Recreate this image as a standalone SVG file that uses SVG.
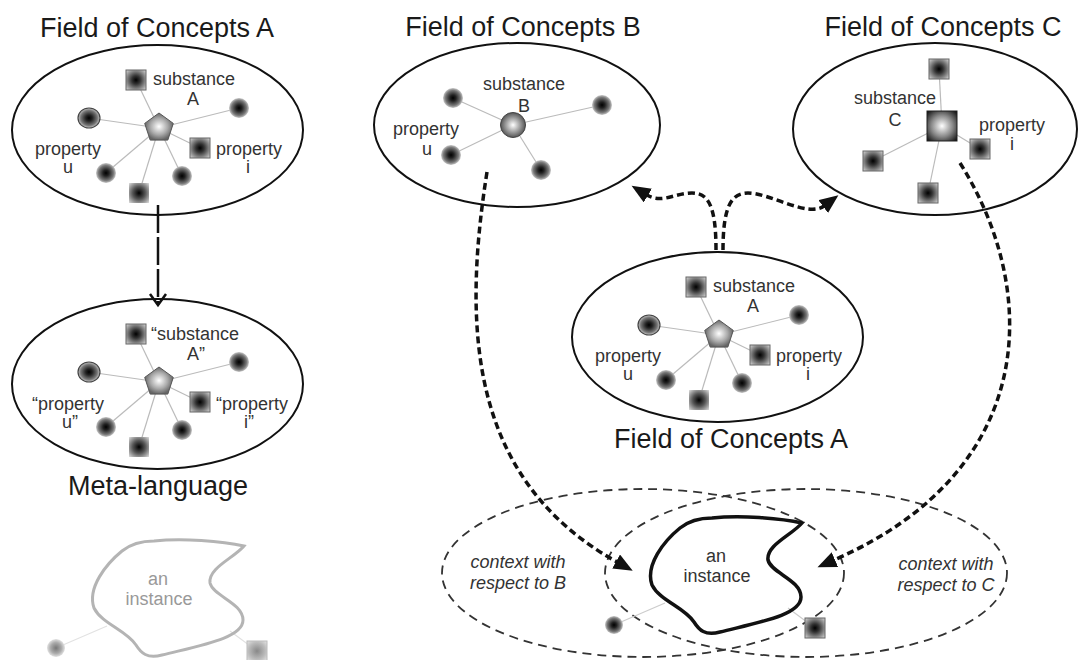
<svg xmlns="http://www.w3.org/2000/svg" width="1080" height="660" viewBox="0 0 1080 660">
<style>
.title{font-family:"Liberation Sans",Arial,sans-serif;font-size:27px;fill:#1a1a1a}
.lbl{font-family:"Liberation Sans",Arial,sans-serif;font-size:18px;fill:#333}
.mid{text-anchor:middle}
.ctx{font-family:"Liberation Sans",Arial,sans-serif;font-size:18px;font-style:italic;fill:#333;text-anchor:middle}
.grey{font-family:"Liberation Sans",Arial,sans-serif;font-size:18px;fill:#999;text-anchor:middle}
.field{fill:none;stroke:#111;stroke-width:2}
.spoke{stroke:#bbb;stroke-width:1.2}
.dot{fill:url(#gDot)}
.sq{fill:url(#gSq);stroke:#666;stroke-width:1}
.thick{fill:none;stroke:#111;stroke-width:3.5;stroke-dasharray:7 4}
.ctxe{fill:none;stroke:#333;stroke-width:1.8;stroke-dasharray:9 6}
</style>
<defs>
<radialGradient id="gDot"><stop offset="0" stop-color="#000"/><stop offset="0.3" stop-color="#222"/><stop offset="0.75" stop-color="#777"/><stop offset="1" stop-color="#c8c8c8"/></radialGradient>
<radialGradient id="gDotLight"><stop offset="0" stop-color="#777"/><stop offset="0.6" stop-color="#aaa"/><stop offset="1" stop-color="#e2e2e2"/></radialGradient>
<radialGradient id="gSq" r="0.7"><stop offset="0" stop-color="#000"/><stop offset="0.3" stop-color="#333"/><stop offset="0.8" stop-color="#aaa"/><stop offset="1" stop-color="#ddd"/></radialGradient>
<radialGradient id="gSqLight" r="0.7"><stop offset="0" stop-color="#888"/><stop offset="0.6" stop-color="#bbb"/><stop offset="1" stop-color="#e6e6e6"/></radialGradient>
<radialGradient id="gSoft" r="0.7"><stop offset="0" stop-color="#000"/><stop offset="0.45" stop-color="#555"/><stop offset="1" stop-color="#ddd"/></radialGradient>
<radialGradient id="gPent"><stop offset="0" stop-color="#fff"/><stop offset="0.6" stop-color="#aaa"/><stop offset="1" stop-color="#666"/></radialGradient>
<radialGradient id="gSphere"><stop offset="0" stop-color="#fff"/><stop offset="0.6" stop-color="#999"/><stop offset="1" stop-color="#555"/></radialGradient>
<radialGradient id="gBig" r="0.72"><stop offset="0" stop-color="#fff"/><stop offset="0.5" stop-color="#888"/><stop offset="1" stop-color="#000"/></radialGradient>
<marker id="tri" markerUnits="userSpaceOnUse" markerWidth="20" markerHeight="16" viewBox="0 0 20 16" refX="1" refY="8" orient="auto"><path d="M0,0 L19,8 L0,16 z" fill="#111"/></marker>
<g id="fieldA-shapes">
<g class="spoke">
<line x1="159" y1="128" x2="136" y2="80"/><line x1="159" y1="128" x2="239" y2="108"/><line x1="159" y1="128" x2="89" y2="118"/><line x1="159" y1="128" x2="200" y2="148"/><line x1="159" y1="128" x2="106" y2="173"/><line x1="159" y1="128" x2="182" y2="176"/><line x1="159" y1="128" x2="139" y2="193"/>
</g>
<rect class="sq" x="126" y="70" width="20" height="20"/>
<circle class="dot" cx="239" cy="108" r="10"/>
<ellipse cx="89" cy="118" rx="11" ry="10" fill="url(#gDot)" stroke="#444" stroke-width="1.2"/>
<polygon points="159,113 173.3,123.4 167.8,140.1 150.2,140.1 144.7,123.4" fill="url(#gPent)" stroke="#555" stroke-width="1"/>
<rect class="sq" x="190" y="138" width="20" height="20"/>
<circle class="dot" cx="106" cy="173" r="10"/>
<circle class="dot" cx="182" cy="176" r="10"/>
<rect x="129" y="183" width="20" height="20" fill="url(#gSoft)"/>
</g>
<path id="blob" d="M712 518 C740 515 780 518 802 523 C792 535 766 545 768 560 C771 573 801 580 801 597 C801 615 760 622 720 632 C705 636 699 630 694 622 C684 607 660 601 652 585 C645 565 664 541 680 528 C690 520 700 518 712 518 Z"/>
</defs>

<g id="field-A">
<text class="title mid" x="157" y="37">Field of Concepts A</text>
<ellipse class="field" cx="157.5" cy="130" rx="145.5" ry="85"/>
<use href="#fieldA-shapes"/>
<text class="lbl" x="153" y="85">substance</text>
<text class="lbl mid" x="193" y="105">A</text>
<text class="lbl" x="216" y="155">property</text>
<text class="lbl mid" x="248" y="173">i</text>
<text class="lbl" x="35" y="155">property</text>
<text class="lbl mid" x="68" y="173">u</text>
</g>

<g id="meta-language" transform="translate(0,254)">
<ellipse class="field" cx="157.5" cy="130" rx="145.5" ry="85"/>
<use href="#fieldA-shapes"/>
<text class="lbl" x="151" y="86">“substance</text>
<text class="lbl mid" x="196" y="106">A”</text>
<text class="lbl" x="216" y="156">“property</text>
<text class="lbl mid" x="249" y="174">i”</text>
<text class="lbl" x="32" y="156">“property</text>
<text class="lbl mid" x="70" y="174">u”</text>
<text class="title mid" x="158" y="241">Meta-language</text>
</g>

<g id="instance-grey" transform="translate(-558,23)">
<line x1="614" y1="625" x2="665" y2="603" stroke="#e2e2e2" stroke-width="1.2"/>
<line x1="815" y1="628" x2="788" y2="608" stroke="#e2e2e2" stroke-width="1.2"/>
<use href="#blob" fill="none" stroke="#b4b4b4" stroke-width="3"/>
<circle cx="614" cy="625" r="9" fill="url(#gDotLight)"/>
<rect x="805" y="618" width="20" height="20" fill="url(#gSqLight)" stroke="#bbb" stroke-width="1"/>
<text class="grey" x="716" y="562">an</text>
<text class="grey" x="717" y="582">instance</text>
</g>

<g id="field-B">
<text class="title mid" x="523" y="36">Field of Concepts B</text>
<ellipse class="field" cx="517" cy="125" rx="143" ry="82"/>
<g class="spoke">
<line x1="513" y1="125" x2="453" y2="98"/><line x1="513" y1="125" x2="602" y2="105"/><line x1="513" y1="125" x2="451" y2="155"/><line x1="513" y1="125" x2="541" y2="170"/>
</g>
<circle class="dot" cx="453" cy="98" r="10"/>
<circle class="dot" cx="602" cy="105" r="10"/>
<circle class="dot" cx="451" cy="155" r="10"/>
<circle class="dot" cx="541" cy="170" r="10"/>
<circle cx="513" cy="125" r="12.5" fill="url(#gSphere)" stroke="#444" stroke-width="1"/>
<text class="lbl" x="483" y="90">substance</text>
<text class="lbl mid" x="524" y="112">B</text>
<text class="lbl" x="393" y="135">property</text>
<text class="lbl mid" x="427" y="155">u</text>
</g>

<g id="field-C">
<text class="title mid" x="943" y="36">Field of Concepts C</text>
<ellipse class="field" cx="935" cy="129" rx="142" ry="86"/>
<g class="spoke">
<line x1="942" y1="126" x2="939" y2="69"/><line x1="942" y1="126" x2="980" y2="149"/><line x1="942" y1="126" x2="873" y2="161"/><line x1="942" y1="126" x2="928" y2="193"/>
</g>
<rect class="sq" x="929" y="59" width="20" height="20"/>
<rect class="sq" x="970" y="139" width="20" height="20"/>
<rect class="sq" x="863" y="151" width="20" height="20"/>
<rect class="sq" x="918" y="183" width="20" height="20"/>
<rect x="927" y="111" width="30" height="30" fill="url(#gBig)" stroke="#222" stroke-width="1"/>
<text class="lbl" x="854" y="104">substance</text>
<text class="lbl mid" x="895" y="126">C</text>
<text class="lbl" x="979" y="131">property</text>
<text class="lbl mid" x="1012" y="150">i</text>
</g>

<g id="field-A-center" transform="translate(560,207)">
<ellipse class="field" cx="157.5" cy="130" rx="145.5" ry="85"/>
<use href="#fieldA-shapes"/>
<text class="lbl" x="153" y="85">substance</text>
<text class="lbl mid" x="193" y="105">A</text>
<text class="lbl" x="216" y="155">property</text>
<text class="lbl mid" x="248" y="173">i</text>
<text class="lbl" x="35" y="155">property</text>
<text class="lbl mid" x="68" y="173">u</text>
<text class="title mid" x="171" y="241">Field of Concepts A</text>
</g>

<g id="contexts">
<ellipse class="ctxe" cx="643" cy="573" rx="201" ry="84"/>
<ellipse class="ctxe" cx="806" cy="573" rx="201" ry="84"/>
<text class="ctx" x="518" y="568">context with</text>
<text class="ctx" x="518" y="589">respect to B</text>
<text class="ctx" x="946" y="570">context with</text>
<text class="ctx" x="946" y="591">respect to C</text>
</g>

<g id="instance">
<line x1="614" y1="625" x2="665" y2="603" stroke="#ccc" stroke-width="1.2"/>
<line x1="815" y1="628" x2="788" y2="608" stroke="#ccc" stroke-width="1.2"/>
<use href="#blob" fill="none" stroke="#111" stroke-width="3.5"/>
<circle class="dot" cx="614" cy="625" r="9"/>
<rect class="sq" x="805" y="618" width="20" height="20"/>
<text class="lbl mid" x="716" y="562">an</text>
<text class="lbl mid" x="717" y="582">instance</text>
</g>

<g id="connectors">
<line x1="158" y1="205" x2="158" y2="305" stroke="#111" stroke-width="2.5" stroke-dasharray="28 4"/>
<polyline points="150,294 158,305 166,294" fill="none" stroke="#111" stroke-width="2.5"/>
<path class="thick" d="M716 250 C716 205 708 193 692 193 C675 193 662 204 647 195" marker-end="url(#tri)"/>
<path class="thick" d="M723 250 C723 205 732 193 748 193 C770 193 808 218 824 206" marker-end="url(#tri)"/>
<path class="thick" d="M487 172 C462 330 470 480 617 562" marker-end="url(#tri)"/>
<path class="thick" d="M960 163 C1040 290 1040 470 834 560" marker-end="url(#tri)"/>
</g>
</svg>
